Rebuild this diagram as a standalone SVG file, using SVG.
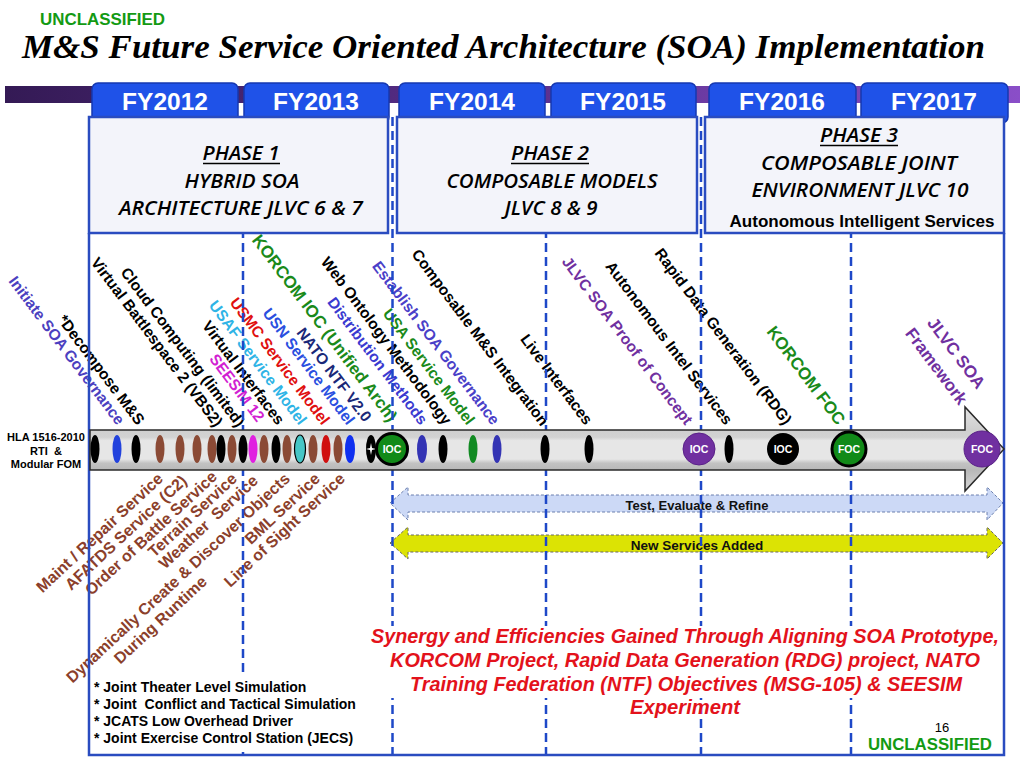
<svg xmlns="http://www.w3.org/2000/svg" width="1024" height="768" viewBox="0 0 1024 768">
<defs>
<linearGradient id="band" x1="0" y1="0" x2="1" y2="0">
<stop offset="0" stop-color="#341a55"/><stop offset="0.5" stop-color="#5a2f8c"/><stop offset="1" stop-color="#8a4ec8"/>
</linearGradient>
<linearGradient id="tl" gradientUnits="userSpaceOnUse" x1="0" y1="407" x2="0" y2="491">
<stop offset="0" stop-color="#e2e2e2"/><stop offset="0.27" stop-color="#cfcfcf"/><stop offset="0.36" stop-color="#d2d2d2"/><stop offset="0.4" stop-color="#e6e6e6"/><stop offset="0.62" stop-color="#e6e6e6"/><stop offset="0.67" stop-color="#c2c2c2"/><stop offset="0.75" stop-color="#b8b8b8"/><stop offset="1" stop-color="#d6d6d6"/>
</linearGradient>
<style>
.tab{fill:#1f52e8;stroke:#1638b0;stroke-width:1.5}
.fy{font-family:"Liberation Sans",Arial,sans-serif;font-weight:bold;font-size:24.5px;fill:#fff;text-anchor:middle}
.pbox{fill:#f3f4fa;stroke:#2a4cc0;stroke-width:2.5}
.ph{font-family:"Open Sans","Noto Sans",sans-serif;font-style:italic;font-weight:600;font-size:20px;fill:#000;text-anchor:middle}
.ul{stroke:#000;stroke-width:1.5}
.frame{stroke:#2a4cc0;stroke-width:2.5;fill:none}
.dash{stroke:#1e48c8;stroke-width:2.5;stroke-dasharray:9 5;fill:none}
.lt{font-family:"Liberation Sans",Arial,sans-serif;font-weight:bold;font-size:15.5px;text-anchor:end}
.big{font-size:17px}
.lb{font-family:"Liberation Sans",Arial,sans-serif;font-weight:bold;font-size:16px;fill:#8b3f2b;text-anchor:end}
.sans{font-family:"Liberation Sans",Arial,sans-serif;font-weight:bold}
.ov{stroke:none}
.ctext{font-family:"Liberation Sans",Arial,sans-serif;font-weight:bold;font-size:10.5px;fill:#fff;text-anchor:middle}
.red{font-family:"Liberation Sans",Arial,sans-serif;font-weight:bold;font-style:italic;font-size:19.5px;fill:#e3121b;text-anchor:middle}
.lst{font-family:"Liberation Sans",Arial,sans-serif;font-weight:bold;font-size:14px;fill:#000}
</style>
</defs>
<rect width="1024" height="768" fill="#fff"/>

<g id="header">
<text x="40" y="25" class="sans" font-size="16.5" fill="#139a13" textLength="125" lengthAdjust="spacingAndGlyphs">UNCLASSIFIED</text>
<text x="22" y="58" font-family="'Liberation Serif','Times New Roman',serif" font-weight="bold" font-style="italic" font-size="34" fill="#000" textLength="963" lengthAdjust="spacingAndGlyphs">M&amp;S Future Service Oriented Architecture (SOA) Implementation</text>
<rect x="5" y="86" width="1015" height="17" fill="url(#band)"/>
</g>

<g id="tabs">
<rect class="tab" x="92" y="83" width="146" height="40" rx="6"/>
<rect class="tab" x="244" y="83" width="145" height="40" rx="6"/>
<rect class="tab" x="399" y="83" width="146" height="40" rx="6"/>
<rect class="tab" x="551" y="83" width="145" height="40" rx="6"/>
<rect class="tab" x="709" y="83" width="147" height="40" rx="6"/>
<rect class="tab" x="861" y="83" width="147" height="40" rx="6"/>
<text class="fy" x="165" y="110">FY2012</text>
<text class="fy" x="316" y="110">FY2013</text>
<text class="fy" x="472" y="110">FY2014</text>
<text class="fy" x="623" y="110">FY2015</text>
<text class="fy" x="782" y="110">FY2016</text>
<text class="fy" x="934" y="110">FY2017</text>
</g>

<g id="top-labels">
<text class="lt" fill="#4b40c0" transform="translate(117,426) rotate(53)">Initiate SOA Governance</text>
<text class="lt" fill="#000" transform="translate(137,426) rotate(53)">*Decompose M&amp;S</text>
<text class="lt" fill="#000" transform="translate(215,428) rotate(53)">Virtual Battlespace 2 (VBS2)</text>
<text class="lt" fill="#000" transform="translate(237,428) rotate(53)">Cloud Computing (limited)</text>
<text class="lt" fill="#d21fd2" transform="translate(257,423) rotate(53)">SEESIM 12</text>
<text class="lt" fill="#000" transform="translate(277,426) rotate(53)">Virtual Interfaces</text>
<text class="lt" fill="#2fb4e6" transform="translate(299,426) rotate(53)">USAF Service Model</text>
<text class="lt" fill="#e01010" transform="translate(322,426) rotate(53)">USMC Service Model</text>
<text class="lt" fill="#2a4fe0" transform="translate(347,426) rotate(53)">USN Service Model</text>
<text class="lt" fill="#1a2878" transform="translate(364,423) rotate(53)">NATO NTF V2.0</text>
<text class="lt big" fill="#1a8a1a" transform="translate(389,423) rotate(53)">KORCOM IOC (Unified Arch)</text>
<text class="lt" fill="#3a3ad0" transform="translate(420,426) rotate(53)">Distribution Methods</text>
<text class="lt" fill="#000" transform="translate(444,426) rotate(53)">Web Ontology Methodology</text>
<text class="lt" fill="#1a8a1a" transform="translate(467,426) rotate(53)">USA Service Model</text>
<text class="lt" fill="#4a40c8" transform="translate(492,426) rotate(53)">Establish SOA Governance</text>
<text class="lt" fill="#000" transform="translate(541,427) rotate(53)">Composable M&amp;S Integration</text>
<text class="lt" fill="#000" transform="translate(585,426) rotate(53)">Live Interfaces</text>
<text class="lt" fill="#7030a0" transform="translate(685,426) rotate(53)">JLVC SOA Proof of Concept</text>
<text class="lt" fill="#000" transform="translate(725,426) rotate(53)">Autonomous Intel Services</text>
<text class="lt" fill="#000" transform="translate(784,426) rotate(53)">Rapid Data Generation (RDG)</text>
<text class="lt big" fill="#1a8a1a" transform="translate(837,426) rotate(53)">KORCOM FOC</text>
<text class="lt big" fill="#7030a0" transform="translate(977,390) rotate(53)">JLVC SOA</text>
<text class="lt big" fill="#7030a0" transform="translate(959,406) rotate(53)">Framework</text>
</g>

<g id="bottom-labels">
<text class="lb" transform="translate(164,480) rotate(-43)">Maint / Repair Service</text>
<text class="lb" transform="translate(188,482) rotate(-43)">AFATDS Service (C2)</text>
<text class="lb" transform="translate(218,478) rotate(-43)">Order of Battle Service</text>
<text class="lb" transform="translate(238,480) rotate(-43)">Terrain Service</text>
<text class="lb" transform="translate(259,482) rotate(-43)" style="white-space:pre">Weather  Service</text>
<text class="lb" transform="translate(291,480) rotate(-43)">Dynamically Create &amp; Discover Objects</text>
<text class="lb" transform="translate(208,583) rotate(-43)">During Runtime</text>
<text class="lb" transform="translate(321,480) rotate(-43)">BML Service</text>
<text class="lb" transform="translate(346,480) rotate(-43)">Line of Sight Service</text>
</g>

<g id="connectors">
<g id="test-arrow">
<polygon points="390,503 408,487 408,495 987,495 987,487 1003,503 987,520 987,512 408,512 408,520" fill="#ccd9f6" stroke="#6b7fae" stroke-width="1" stroke-dasharray="3 2"/>
<text x="697" y="510" class="sans" font-size="13" text-anchor="middle" fill="#111">Test, Evaluate &amp; Refine</text>
</g>
<g id="new-services-arrow">
<polygon points="390,543 408,527 408,535 987,535 987,527 1003,543 987,559 987,552 408,552 408,559" fill="#dce304" stroke="#666" stroke-width="1" stroke-dasharray="3 2"/>
<text x="697" y="550" class="sans" font-size="13.5" text-anchor="middle" fill="#111">New Services Added</text>
</g>
</g>

<g id="grid">
<line class="dash" x1="243" y1="117" x2="243" y2="754"/>
<line class="dash" x1="392.5" y1="117" x2="392.5" y2="754"/>
<line class="dash" x1="546" y1="117" x2="546" y2="754"/>
<line class="dash" x1="701" y1="117" x2="701" y2="754"/>
<line class="dash" x1="851" y1="117" x2="851" y2="754"/>
</g>

<g id="phase1">
<rect class="pbox" x="89" y="117" width="299" height="116"/>
<text class="ph" x="241" y="160" textLength="77" lengthAdjust="spacingAndGlyphs">PHASE 1</text>
<line class="ul" x1="203" y1="163.5" x2="280" y2="163.5"/>
<text class="ph" x="242" y="188" textLength="115" lengthAdjust="spacingAndGlyphs">HYBRID SOA</text>
<text class="ph" x="241" y="215" textLength="244" lengthAdjust="spacingAndGlyphs">ARCHITECTURE JLVC 6 &amp; 7</text>
</g>
<g id="phase2">
<rect class="pbox" x="397" y="117" width="300" height="116"/>
<text class="ph" x="550" y="160" textLength="78" lengthAdjust="spacingAndGlyphs">PHASE 2</text>
<line class="ul" x1="511" y1="163.5" x2="589" y2="163.5"/>
<text class="ph" x="552" y="188" textLength="211" lengthAdjust="spacingAndGlyphs">COMPOSABLE MODELS</text>
<text class="ph" x="551" y="215" textLength="93" lengthAdjust="spacingAndGlyphs">JLVC 8 &amp; 9</text>
</g>
<g id="phase3">
<rect class="pbox" x="705" y="117" width="299" height="116"/>
<text class="ph" x="859" y="142" textLength="78" lengthAdjust="spacingAndGlyphs">PHASE 3</text>
<line class="ul" x1="820" y1="145.5" x2="898" y2="145.5"/>
<text class="ph" x="859" y="170" textLength="196" lengthAdjust="spacingAndGlyphs">COMPOSABLE JOINT</text>
<text class="ph" x="860" y="197" textLength="217" lengthAdjust="spacingAndGlyphs">ENVIRONMENT JLVC 10</text>
<text x="862" y="227" class="sans" font-size="16" text-anchor="middle" fill="#000" textLength="265" lengthAdjust="spacingAndGlyphs">Autonomous Intelligent Services</text>
</g>

<g id="frame">
<polyline class="frame" points="89,233 89,755 1004,755 1004,233"/>
</g>

<g id="timeline">
<polygon points="90,430 965,430 965,407 1004,449 965,491 965,470 90,470" fill="url(#tl)" stroke="#2a2a2a" stroke-width="1.5"/>
<g class="ov">
<ellipse cx="95" cy="449" rx="4.5" ry="14" fill="#000"/>
<ellipse cx="117" cy="449" rx="4.5" ry="14" fill="#2242dd"/>
<ellipse cx="136" cy="449" rx="4.5" ry="14" fill="#000"/>
<ellipse cx="160" cy="449" rx="4.5" ry="14" fill="#8b4a35"/>
<ellipse cx="180" cy="449" rx="4.5" ry="14" fill="#8b4a35"/>
<ellipse cx="197" cy="449" rx="4.5" ry="14" fill="#8b4a35"/>
<ellipse cx="212" cy="449" rx="4.5" ry="14" fill="#8b4a35"/>
<ellipse cx="221" cy="449" rx="4.5" ry="14" fill="#000"/>
<ellipse cx="232" cy="449" rx="4.5" ry="14" fill="#8b4a35"/>
<ellipse cx="243" cy="449" rx="4.5" ry="14" fill="#000"/>
<ellipse cx="253" cy="449" rx="4.5" ry="14" fill="#e020e0"/>
<ellipse cx="264" cy="449" rx="4.5" ry="14" fill="#8b4a35"/>
<ellipse cx="276" cy="449" rx="4.5" ry="14" fill="#000"/>
<ellipse cx="287" cy="449" rx="4.5" ry="14" fill="#8b4a35"/>
<ellipse cx="300" cy="449" rx="5.5" ry="14" fill="#46c6c6" stroke="#000" stroke-width="1.2"/>
<ellipse cx="313" cy="449" rx="4.5" ry="14" fill="#8b4a35"/>
<ellipse cx="326" cy="449" rx="4.5" ry="14" fill="#d01010"/>
<ellipse cx="338" cy="449" rx="4.5" ry="14" fill="#8b4a35"/>
<ellipse cx="350" cy="449" rx="5" ry="14" fill="#1030f0"/>
<ellipse cx="371" cy="449" rx="5" ry="14" fill="#000"/>
<path d="M371,443 L372,448 L376,449 L372,450 L371,455 L370,450 L366,449 L370,448 Z" fill="#fff"/>
<ellipse cx="422" cy="449" rx="5" ry="14" fill="#3434b4"/>
<ellipse cx="443" cy="449" rx="4.5" ry="14" fill="#000"/>
<ellipse cx="473" cy="449" rx="4.5" ry="14" fill="#118a22"/>
<ellipse cx="497" cy="449" rx="4.5" ry="14" fill="#3434b4"/>
<ellipse cx="545" cy="449" rx="4.5" ry="14" fill="#000"/>
<ellipse cx="589" cy="449" rx="4.5" ry="14" fill="#000"/>
<ellipse cx="729" cy="449" rx="4.5" ry="14" fill="#000"/>
</g>
<g id="ioc1"><circle cx="392" cy="449" r="15.5" fill="#118a18" stroke="#000" stroke-width="3"/><text class="ctext" x="392" y="453">IOC</text></g>
<g id="ioc2"><circle cx="699" cy="449" r="16" fill="#7030a0" stroke="#5a2288" stroke-width="1"/><text class="ctext" x="699" y="453">IOC</text></g>
<g id="ioc3"><circle cx="783" cy="449" r="16" fill="#000"/><text class="ctext" x="783" y="453">IOC</text></g>
<g id="foc1"><circle cx="849" cy="449" r="17" fill="#118a18" stroke="#000" stroke-width="3"/><text class="ctext" x="849" y="453">FOC</text></g>
<g id="foc2"><circle cx="982" cy="449" r="18" fill="#7030a0" stroke="#5a2288" stroke-width="1"/><text class="ctext" x="982" y="453">FOC</text></g>
</g>

<g id="hla">
<text class="sans" font-size="11" text-anchor="middle" x="46" y="441">HLA 1516-2010</text>
<text class="sans" font-size="11" text-anchor="middle" x="46" y="455" style="white-space:pre">RTI  &amp;</text>
<text class="sans" font-size="11" text-anchor="middle" x="46" y="468">Modular FOM</text>
</g>

<g id="notes">
<rect x="91" y="676" width="272" height="76" fill="#fff"/>
<text class="lst" x="94" y="692">* Joint Theater Level Simulation</text>
<text class="lst" x="94" y="709" style="white-space:pre">* Joint  Conflict and Tactical Simulation</text>
<text class="lst" x="94" y="726">* JCATS Low Overhead Driver</text>
<text class="lst" x="94" y="743">* Joint Exercise Control Station (JECS)</text>
</g>

<g id="synergy">
<rect x="366" y="626" width="634" height="72" fill="#fff"/>
<text class="red" x="685" y="643" textLength="628" lengthAdjust="spacingAndGlyphs">Synergy and Efficiencies Gained Through Aligning SOA Prototype,</text>
<text class="red" x="685" y="667" textLength="590" lengthAdjust="spacingAndGlyphs">KORCOM Project, Rapid Data Generation (RDG) project, NATO</text>
<text class="red" x="686" y="691" textLength="552" lengthAdjust="spacingAndGlyphs">Training Federation (NTF) Objectives (MSG-105) &amp; SEESIM</text>
<text class="red" x="685" y="714" textLength="110" lengthAdjust="spacingAndGlyphs">Experiment</text>
</g>

<g id="footer">
<text x="942" y="732" font-family="'Liberation Sans',Arial,sans-serif" font-size="13" text-anchor="middle" fill="#000">16</text>
<text x="868" y="750" class="sans" font-size="16" fill="#139a13" textLength="124" lengthAdjust="spacingAndGlyphs">UNCLASSIFIED</text>
</g>
</svg>
